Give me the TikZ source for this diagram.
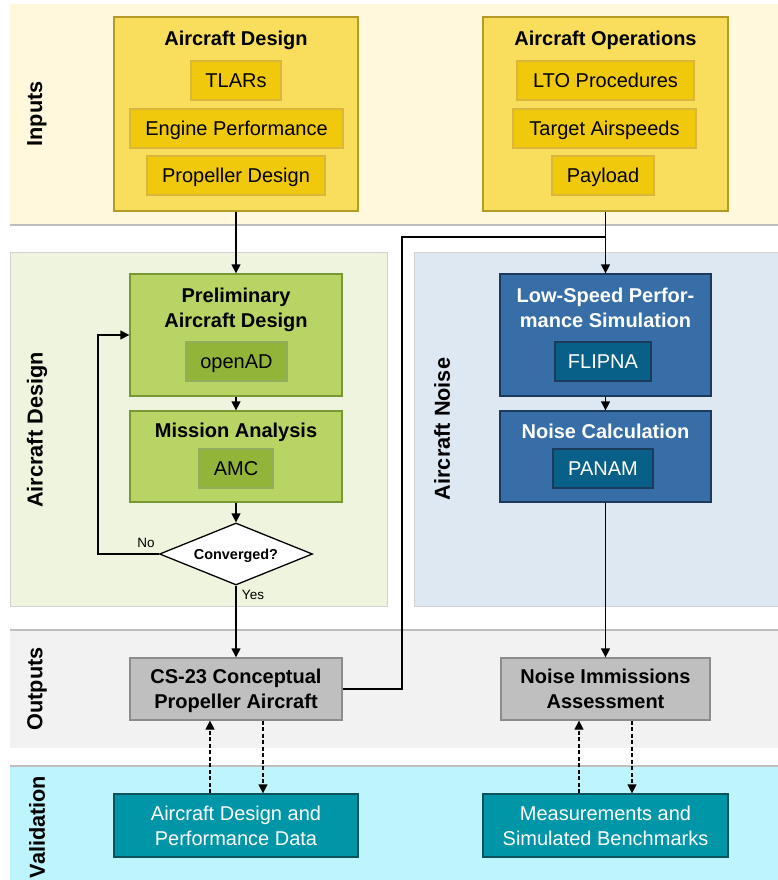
\documentclass[tikz,border=0pt]{standalone}
\usepackage{fontspec}
\setmainfont{Liberation Sans}
\usetikzlibrary{arrows.meta,shapes.geometric}

\definecolor{inband}{RGB}{255,248,220}
\definecolor{adband}{RGB}{239,244,222}
\definecolor{anband}{RGB}{222,232,242}
\definecolor{outband}{RGB}{242,242,242}
\definecolor{valband}{RGB}{190,245,252}
\definecolor{bandline}{RGB}{190,190,190}
\definecolor{yelouter}{RGB}{248,222,92}
\definecolor{yelline}{RGB}{180,155,40}
\definecolor{yelinner}{RGB}{240,200,12}
\definecolor{yelinline}{RGB}{218,182,60}
\definecolor{grnouter}{RGB}{184,212,100}
\definecolor{grnline}{RGB}{120,152,52}
\definecolor{grninner}{RGB}{146,180,56}
\definecolor{bluouter}{RGB}{55,110,167}
\definecolor{bluline}{RGB}{28,58,92}
\definecolor{bluinner}{RGB}{8,96,136}
\definecolor{gryouter}{RGB}{191,191,191}
\definecolor{gryline}{RGB}{140,140,140}
\definecolor{tealbox}{RGB}{0,150,168}
\definecolor{tealline}{RGB}{10,82,92}

\begin{document}
\begin{tikzpicture}[x=1pt,y=-1pt,
  bigfont/.style={font=\fontsize{20}{25}\selectfont},
  boldfont/.style={font=\fontsize{20}{25}\selectfont\bfseries},
  sidelabel/.style={rotate=90,font=\fontsize{21.7}{26}\selectfont\bfseries},
  outerbox/.style={draw,line width=1.3pt,inner sep=0pt},
  innerbox/.style={draw,line width=1.1pt,inner sep=0pt,minimum height=39pt,
    text height=14.5pt,text depth=0pt,bigfont},
  resultbox/.style={draw=gryline,fill=gryouter,line width=1.3pt,inner sep=0pt,
    minimum height=62pt,align=center,text depth=0pt,boldfont},
  databox/.style={draw=tealline,fill=tealbox,line width=1.3pt,inner sep=0pt,
    minimum height=63pt,align=center,text=white,bigfont},
  flow/.style={line width=1.4pt,-{Triangle[length=9pt,width=9pt]}},
  checkflow/.style={line width=1.3pt,dash pattern=on 4pt off 2.5pt,
    -{Triangle[length=9pt,width=9pt]}}]
  \useasboundingbox (0,0) rectangle (778,880);
  \fill[white] (0,0) rectangle (778,880);

  \fill[inband] (10,4) rectangle (778,225);
  \draw[bandline,line width=1.2pt] (10,225) -- (778,225);
  \draw[bandline!70,fill=adband,line width=0.8pt] (10,252) rectangle (387,606);
  \draw[bandline!70,fill=anband,line width=0.8pt] (414,252) rectangle (778,606);
  \fill[outband] (10,630) rectangle (778,748);
  \draw[bandline,line width=1.2pt] (10,630) -- (778,630);
  \fill[valband] (10,766) rectangle (778,880);
  \draw[bandline,line width=1.2pt] (10,766) -- (778,766);

  \node (lblin) [sidelabel] at (37,114) {Inputs};
  \node (lblad) [sidelabel] at (37,430) {Aircraft Design};
  \node (lblan) [sidelabel] at (442,429) {Aircraft Noise};
  \node (lblout) [sidelabel] at (37,689) {Outputs};
  \node (lblval) [sidelabel] at (37,827) {Validation};

  \node (ad) [outerbox,draw=yelline,fill=yelouter,minimum width=244pt,minimum height=194pt] at (236,114) {};
  \node (adtitle) [boldfont] at (236,40) {Aircraft Design};
  \node (tlars) [innerbox,draw=yelinline,fill=yelinner,minimum width=90pt] at (236,80.5) {TLARs};
  \node (engperf) [innerbox,draw=yelinline,fill=yelinner,minimum width=213pt] at (236.5,128.5) {Engine Performance};
  \node (propdes) [innerbox,draw=yelinline,fill=yelinner,minimum width=178pt] at (236,175.5) {Propeller Design};

  \node (ao) [outerbox,draw=yelline,fill=yelouter,minimum width=245pt,minimum height=194pt] at (605.5,114) {};
  \node (aotitle) [boldfont] at (605.5,40) {Aircraft Operations};
  \node (lto) [innerbox,draw=yelinline,fill=yelinner,minimum width=177pt] at (605.5,80.5) {LTO Procedures};
  \node (tas) [innerbox,draw=yelinline,fill=yelinner,minimum width=183pt] at (604.5,128.5) {Target Airspeeds};
  \node (payload) [innerbox,draw=yelinline,fill=yelinner,minimum width=102pt] at (603,175.5) {Payload};

  \node (pad) [outerbox,draw=grnline,fill=grnouter,minimum width=212pt,minimum height=122pt] at (236,335) {};
  \node (padtitle) [boldfont,align=center] at (236,309.5) {Preliminary\\Aircraft Design};
  \node (openad) [innerbox,draw=grnline!80,fill=grninner,minimum width=101pt] at (236.5,361.5) {openAD};

  \node (ma) [outerbox,draw=grnline,fill=grnouter,minimum width=212pt,minimum height=91pt] at (236,456.5) {};
  \node (matitle) [boldfont] at (236,432) {Mission Analysis};
  \node (amc) [innerbox,draw=grnline!80,fill=grninner,minimum width=74pt] at (236,468.5) {AMC};

  \node (conv) [diamond,draw,fill=white,line width=1.3pt,aspect=2.5,inner sep=0pt,text depth=0pt,
    minimum width=153pt,minimum height=62pt,font=\fontsize{14.4}{17}\selectfont\bfseries] at (236,554) {Converged?};
  \node (no) [font=\fontsize{13.5}{16}\selectfont] at (146,543) {No};
  \node (yes) [font=\fontsize{13.5}{16}\selectfont] at (253,595) {Yes};

  \node (lsp) [outerbox,draw=bluline,fill=bluouter,minimum width=211pt,minimum height=122pt] at (605.5,335) {};
  \node (lsptitle) [boldfont,align=center,text=white] at (605.5,308) {Low-Speed Perfor-\\mance Simulation};
  \node (flipna) [innerbox,draw=bluline,fill=bluinner,text=white,minimum width=96pt] at (603,361.5) {FLIPNA};

  \node (nc) [outerbox,draw=bluline,fill=bluouter,minimum width=211pt,minimum height=91pt] at (605.5,456.5) {};
  \node (nctitle) [boldfont,text=white] at (605.5,431) {Noise Calculation};
  \node (panam) [innerbox,draw=bluline,fill=bluinner,text=white,minimum width=100pt] at (603,468.5) {PANAM};

  \node (cs23) [resultbox,minimum width=212pt] at (236,689) {CS-23 Conceptual\\Propeller Aircraft};
  \node (nia) [resultbox,minimum width=209pt] at (605.5,689) {Noise Immissions\\Assessment};

  \node (vad) [databox,minimum width=244pt] at (236,825.5) {Aircraft Design and\\Performance Data};
  \node (vms) [databox,minimum width=245pt] at (605.5,825.5) {Measurements and\\Simulated Benchmarks};

  \coordinate (merge) at (605.5,237);
  \coordinate (bend) at (402,237);
  \coordinate (loop) at (98,450);

  \draw[flow] (ad) -- (pad);
  \draw[flow] (pad) -- (ma);
  \draw[flow] (ma) -- (conv);
  \draw[flow] (conv.west) -| (loop) |- (pad.west);
  \draw[flow] (conv) -- (cs23);
  \draw[line width=1.4pt] (cs23.east) -| (bend) -- (merge);
  \draw[flow] (ao) -- (lsp);
  \draw[flow] (lsp) -- (nc);
  \draw[flow] (nc) -- (nia);

  \draw[checkflow] ([xshift=-26pt]vad.north) -- ([xshift=-26pt]cs23.south);
  \draw[checkflow] ([xshift=27pt]cs23.south) -- ([xshift=27pt]vad.north);
  \draw[checkflow] ([xshift=-26.5pt]vms.north) -- ([xshift=-26.5pt]nia.south);
  \draw[checkflow] ([xshift=26.5pt]nia.south) -- ([xshift=26.5pt]vms.north);
\end{tikzpicture}
\end{document}
